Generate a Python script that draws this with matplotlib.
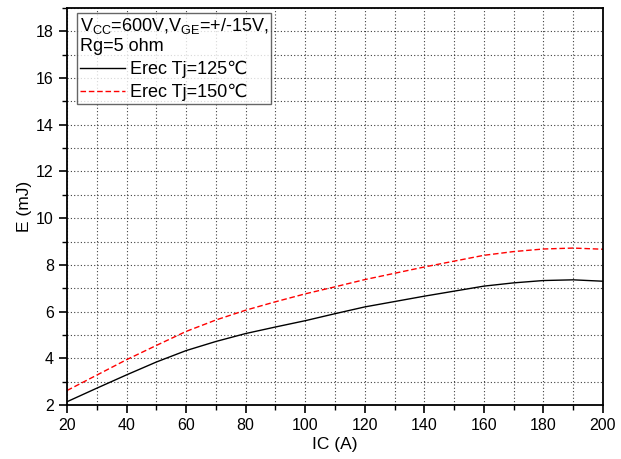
import numpy as np
import matplotlib
matplotlib.use('Agg')
import matplotlib.pyplot as plt
from matplotlib.ticker import MultipleLocator

plt.rcParams['font.family'] = ['Liberation Sans', 'DejaVu Sans']
plt.rcParams['mathtext.fontset'] = 'custom'
plt.rcParams['mathtext.rm'] = 'Liberation Sans'
plt.rcParams['mathtext.it'] = 'Liberation Sans'

ic = [20, 30, 40, 50, 60, 70, 80, 90, 100, 110, 120, 140, 160, 170, 180, 190, 200]
erec_125 = [2.14, 2.72, 3.29, 3.84, 4.33, 4.72, 5.06, 5.34, 5.61, 5.91, 6.2,
            6.66, 7.09, 7.23, 7.33, 7.36, 7.30]
erec_150 = [2.62, 3.28, 3.94, 4.55, 5.15, 5.64, 6.06, 6.42, 6.76, 7.06, 7.37,
            7.91, 8.41, 8.57, 8.68, 8.72, 8.67]

fig = plt.figure(figsize=(6.21, 4.59), dpi=100)
ax = fig.add_axes([67/621, 1 - 405/459, 536/621, 397/459])

ax.plot(ic, erec_125, color='black', lw=1.0, label='Erec Tj=125\u2103')
ax.plot(ic, erec_150, color='red', lw=1.0, ls=(0, (4, 2)), label='Erec Tj=150\u2103')

ax.set_xlim(20, 200)
ax.set_ylim(2, 19)
ax.xaxis.set_major_locator(MultipleLocator(20))
ax.xaxis.set_minor_locator(MultipleLocator(10))
ax.yaxis.set_major_locator(MultipleLocator(2))
ax.yaxis.set_minor_locator(MultipleLocator(1))
ax.tick_params(which='major', direction='out', length=6, width=1.2, labelsize=11.5, colors='black')
ax.tick_params(which='minor', direction='out', length=3.5, width=1.0)
ax.grid(which='both', ls=(0, (1, 2)), color='black', lw=0.8, alpha=0.75)
for s in ax.spines.values():
    s.set_linewidth(1.3)

ax.set_xlabel('IC (A)', fontsize=12.5, labelpad=3)
ax.set_ylabel('E (mJ)', fontsize=12.5, labelpad=3)

leg = ax.legend(loc='upper left', bbox_to_anchor=(0.019, 0.987), fontsize=13,
                title='V$_{CC}$=600V,V$_{GE}$=+/-15V,\nRg=5 ohm',
                title_fontsize=13, frameon=True, fancybox=False,
                edgecolor='#404040', handlelength=2.5, handletextpad=0.25,
                borderpad=0.15, labelspacing=0.3, borderaxespad=0)
leg._legend_box.align = 'left'
leg.get_frame().set_linewidth(1.0)

fig.savefig('out.png', dpi=100)
